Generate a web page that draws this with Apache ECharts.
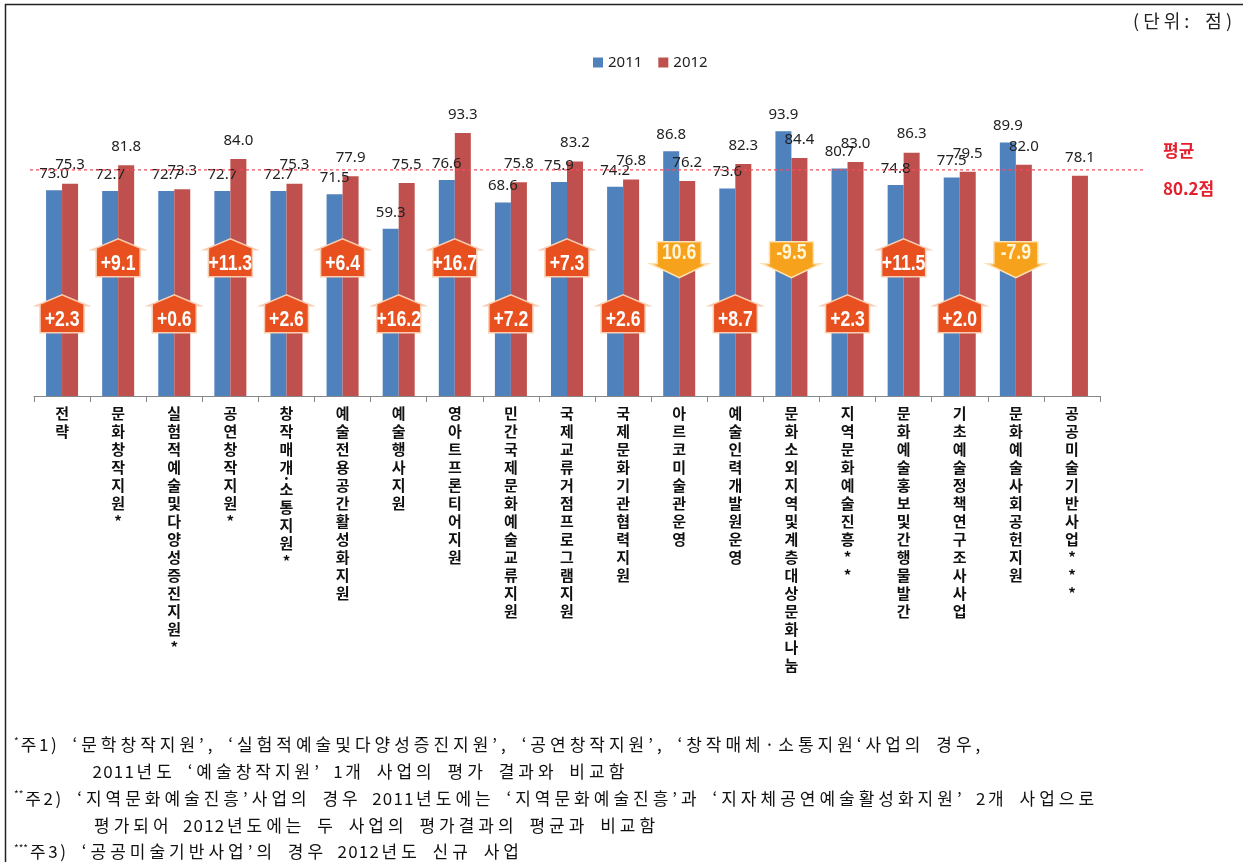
<!DOCTYPE html>
<html>
<head>
    <meta http-equiv="Content-Type" content="text/html; charset=UTF-8">
    <title>ECharts</title>
    <script src="https://cdn.jsdelivr.net/npm/echarts@6.0.0/dist/echarts.min.js"></script>
    <style>
        html, body { margin: 0; padding: 0; background: #fff; }
        #chart { width: 1243px; height: 862px; }
    </style>
</head>
<body>
<div id="chart"></div>

<script type="text/javascript">
    var categories = ['전략', '문화창작지원*', '실험적예술및다양성증진지원*', '공연창작지원*', '창작매개·소통지원*',
        '예술전용공간활성화지원', '예술행사지원', '영아트프론티어지원', '민간국제문화예술교류지원', '국제교류거점프로그램지원',
        '국제문화기관협력지원', '아르코미술관운영', '예술인력개발원운영', '문화소외지역및계층대상문화나눔', '지역문화예술진흥**',
        '문화예술홍보및간행물발간', '기초예술정책연구조사사업', '문화예술사회공헌지원', '공공미술기반사업***'];
    var score2011 = [73.0, 72.7, 72.7, 72.7, 72.7, 71.5, 59.3, 76.6, 68.6, 75.9, 74.2, 86.8, 73.6, 93.9, 80.7, 74.8, 77.5, 89.9, null];
    var score2012 = [75.3, 81.8, 73.3, 84.0, 75.3, 77.9, 75.5, 93.3, 75.8, 83.2, 76.8, 76.2, 82.3, 84.4, 83.0, 86.3, 79.5, 82.0, 78.1];
    var diffValues = [2.3, 9.1, 0.6, 11.3, 2.6, 6.4, 16.2, 16.7, 7.2, 7.3, 2.6, -10.6, 8.7, -9.5, 2.3, 11.5, 2.0, -7.9, null];
    var diffLabels = ['+2.3', '+9.1', '+0.6', '+11.3', '+2.6', '+6.4', '+16.2', '+16.7', '+7.2', '+7.3', '+2.6', '10.6',
        '+8.7', '-9.5', '+2.3', '+11.5', '+2.0', '-7.9', ''];
    var avgScore = 80.2;
    var notes = [
        '*주1) ‘문학창작지원’, ‘실험적예술및다양성증진지원’, ‘공연창작지원’, ‘창작매체·소통지원‘사업의 경우,',
        '2011년도 ‘예술창작지원’ 1개 사업의 평가 결과와 비교함',
        '**주2) ‘지역문화예술진흥’사업의 경우 2011년도에는 ‘지역문화예술진흥’과 ‘지자체공연예술활성화지원’ 2개 사업으로',
        '평가되어 2012년도에는 두 사업의 평가결과의 평균과 비교함',
        '***주3) ‘공공미술기반사업’의 경우 2012년도 신규 사업'
    ];

    var chart = echarts.init(document.getElementById('chart'));
    var krFont = '"Noto Sans CJK KR", "Noto Sans", sans-serif';
    var arrowFont = '"Liberation Sans", Arial, sans-serif';

    // 글자 간격을 넓게 (앞쪽 * 는 작게, 숫자는 촘촘하게)
    function spaced(str) {
        var m = str.match(/^\*+/);
        var out = m ? '{s|' + m[0] + '}' : '';
        str.slice(m ? m[0].length : 0).split('').forEach(function (ch) {
            var k = /[0-9]/.test(ch) ? 'n' : (ch === ' ' ? 'w' : 'c');
            out += '{' + k + '|' + ch + '}';
        });
        return out;
    }
    function spacedRich(size, color) {
        return {
            c: {fontSize: size, fontFamily: krFont, fill: color, padding: [0, 2, 0, 2]},
            n: {fontSize: size, fontFamily: krFont, fill: color, padding: [0, 0.6, 0, 0.6]},
            w: {fontSize: size, fontFamily: krFont, fill: color, padding: [0, 4, 0, 4]},
            s: {fontSize: 10, fontFamily: krFont, fill: color, padding: [0, 0, 8, 0]}
        };
    }

    // 증감 화살표 (위: 증가, 아래: 감소), 높이는 번갈아 배치
    function renderArrow(params, api) {
        var idx = api.value(0);
        var d = diffValues[idx];
        if (d == null) return null;
        var p = api.coord([idx, idx % 2 ? 42.3 : 22.4]);
        var cx = p[0], by = p[1];
        var pts, textY, fill, stroke, color;
        if (d >= 0) {
            pts = [[cx - 22, by], [cx + 22, by], [cx + 22, by - 27], [cx + 26, by - 27],
                [cx, by - 38], [cx - 26, by - 27], [cx - 22, by - 27]];
            textY = by - 13;
            fill = '#E8511F'; stroke = '#F9CDB2'; color = '#fff';
        } else {
            pts = [[cx - 22, by - 35], [cx + 22, by - 35], [cx + 22, by - 13], [cx + 29, by - 13],
                [cx, by + 1], [cx - 29, by - 13], [cx - 22, by - 13]];
            textY = by - 24;
            fill = '#F6A21D'; stroke = '#FCE2B4'; color = '#FFF6D8';
        }
        return {
            type: 'group',
            children: [{
                type: 'polygon',
                shape: {points: pts},
                style: {fill: fill, stroke: stroke, lineWidth: 1.5}
            }, {
                type: 'text',
                x: cx,
                y: textY,
                scaleX: 0.8,
                style: {
                    text: diffLabels[idx], x: 0, y: 0,
                    align: 'center', verticalAlign: 'middle',
                    fill: color, fontSize: 22, fontWeight: 'bold', fontFamily: arrowFont,
                    textShadowColor: '#2a2a2a', textShadowOffsetX: 1.5, textShadowOffsetY: 1.5
                }
            }]
        };
    }

    var noteTexts = notes.map(function (t, i) {
        var indent = (i === 1 || i === 3);
        return {
            type: 'text',
            x: indent ? 92 : 14,
            y: 745 + i * 26.7,
            silent: true,
            style: {text: spaced(t), verticalAlign: 'middle', rich: spacedRich(17, '#111')}
        };
    });

    chart.setOption({
        animation: false,
        legend: {
            data: ['2011', '2012'],
            left: 588,
            top: 50,
            icon: 'rect',
            itemWidth: 10,
            itemHeight: 10,
            itemGap: 16,
            textStyle: {fontSize: 15, color: '#222', fontFamily: '"Noto Sans", sans-serif'}
        },
        grid: [
            {left: 34, right: 143, top: 114, bottom: 466, outerBoundsMode: 'none'},
            {left: 30, right: 100, top: 114, bottom: 466, outerBoundsMode: 'none'}
        ],
        xAxis: [{
            type: 'category',
            gridIndex: 0,
            data: categories,
            axisLine: {lineStyle: {color: '#868686', width: 1}},
            axisTick: {show: true, length: 6, lineStyle: {color: '#868686'}},
            axisLabel: {
                interval: 0,
                margin: 8,
                fontSize: 15,
                fontWeight: 'bold',
                lineHeight: 18,
                color: '#111',
                fontFamily: krFont,
                formatter: function (v) {
                    return v.split('').map(function (ch) {
                        return ch === '·' ? '{d|·}' : ch;
                    }).join('\n');
                },
                rich: {d: {fontSize: 15, lineHeight: 4, fontWeight: 'bold', color: '#111'}}
            }
        }, {
            type: 'value', gridIndex: 1, min: 0, max: 1, show: false
        }],
        yAxis: [{
            type: 'value', gridIndex: 0, min: 0, max: 100, show: false
        }, {
            type: 'value', gridIndex: 1, min: 0, max: 100, show: false
        }],
        series: [{
            name: '2011',
            type: 'bar',
            data: score2011,
            barWidth: 16,
            barGap: '0%',
            itemStyle: {color: '#4F81BD'},
            label: {
                show: true, position: 'top', distance: 9,
                fontSize: 15, color: '#222', fontFamily: '"Noto Sans", sans-serif',
                formatter: function (p) { return p.value.toFixed(1); }
            }
        }, {
            name: '2012',
            type: 'bar',
            data: score2012,
            barWidth: 16,
            barGap: '0%',
            itemStyle: {color: '#C0504D'},
            label: {
                show: true, position: 'top', distance: 11,
                fontSize: 15, color: '#222', fontFamily: '"Noto Sans", sans-serif',
                formatter: function (p) { return p.value.toFixed(1); }
            }
        }, {
            name: 'change',
            type: 'custom',
            xAxisIndex: 0,
            yAxisIndex: 0,
            renderItem: renderArrow,
            data: categories.map(function (c, i) { return [i, 0]; }),
            z: 5,
            silent: true
        }, {
            name: 'avg',
            type: 'line',
            xAxisIndex: 1,
            yAxisIndex: 1,
            data: [[0, avgScore], [1, avgScore]],
            symbol: 'none',
            silent: true,
            z: 4,
            lineStyle: {color: '#F0505F', width: 1.2, type: [3, 3]},
            endLabel: {
                show: true,
                distance: 20,
                formatter: '평균\n\n' + avgScore.toFixed(1) + '점',
                lineHeight: 19,
                fontSize: 17,
                fontWeight: 'bold',
                color: '#E4202E',
                fontFamily: krFont
            }
        }],
        graphic: [{
            type: 'rect',
            shape: {x: 5.5, y: 4.5, width: 1250, height: 880},
            style: {fill: 'none', stroke: '#222', lineWidth: 1.5},
            silent: true
        }, {
            type: 'text',
            x: 1234,
            y: 21,
            silent: true,
            style: {
                text: spaced('(단위: 점)'), align: 'right', verticalAlign: 'middle',
                rich: spacedRich(18, '#222')
            }
        }].concat(noteTexts)
    });
</script>

</body>
</html>
